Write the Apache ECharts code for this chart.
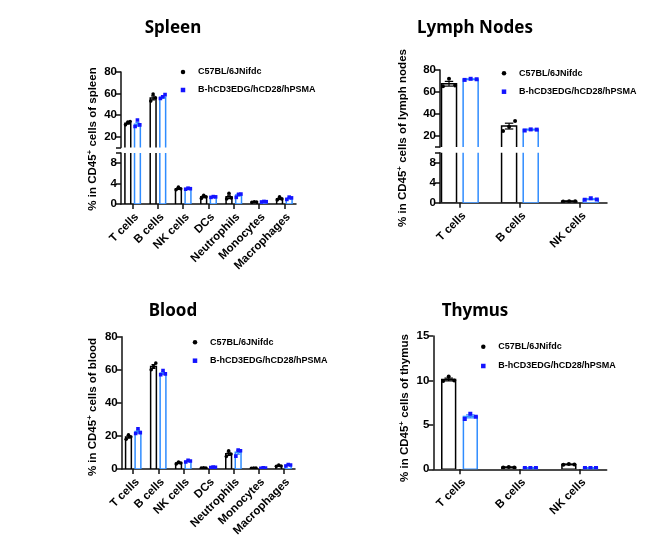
<!DOCTYPE html>
<html><head><meta charset="utf-8">
<script src="https://cdn.jsdelivr.net/npm/echarts@6/dist/echarts.min.js"></script>
<style>html,body{margin:0;padding:0;background:#fff}#c{width:669px;height:539px}</style>
</head><body><div id="c"></div>
<script>
// ---------------- data ----------------
const groupNames = ['C57BL/6JNifdc', 'B-hCD3EDG/hCD28/hPSMA'];

const spleenCats = ['T cells', 'B cells', 'NK cells', 'DCs', 'Neutrophils', 'Monocytes', 'Macrophages'];
const spleenWTMean = [32.5, 56, 3.0, 1.4, 1.4, 0.4, 1.05];
const spleenWTPts = [[31, 33.5, 34], [53, 59.5, 56], [2.8, 3.3, 3.0], [1.1, 1.7, 1.4], [1.0, 2.1, 1.2], [0.35, 0.45, 0.4], [0.8, 1.4, 1.0]];
const spleenHuMean = [31.5, 56.5, 3.0, 1.4, 1.75, 0.45, 1.1];
const spleenHuPts = [[29.5, 35.5, 31], [55.5, 57, 59], [2.9, 3.1, 3.0], [1.3, 1.45, 1.4], [1.3, 1.9, 1.95], [0.4, 0.5, 0.45], [0.9, 1.35, 1.2]];

const lnCats = ['T cells', 'B cells', 'NK cells'];
const lnWTMean = [67.5, 29, 0.3];
const lnWTPts = [[65.3, 72, 65.8], [24.5, 28.5, 33.6], [0.25, 0.3, 0.3]];
const lnHuMean = [71.5, 25.8, 0.7];
const lnHuPts = [[71, 72, 71.6], [25, 26, 25.8], [0.6, 0.9, 0.65]];

const bloodCats = ['T cells', 'B cells', 'NK cells', 'DCs', 'Neutrophils', 'Monocytes', 'Macrophages'];
const bloodWTMean = [19.4, 62, 3.6, 0.6, 9.2, 0.5, 1.9];
const bloodWTPts = [[18, 20.6, 19.5], [60, 62, 64], [3, 4.2, 3.6], [0.5, 0.7, 0.6], [7.5, 11, 9], [0.4, 0.6, 0.5], [1.6, 2.3, 1.8]];
const bloodHuMean = [22.6, 58, 4.7, 1.0, 10.1, 0.55, 2.3];
const bloodHuPts = [[21.5, 24.3, 22], [57, 59.6, 57.5], [4.2, 5.2, 4.8], [0.8, 1.1, 1.0], [7.8, 11.4, 11], [0.45, 0.65, 0.55], [1.8, 2.7, 2.4]];

const thCats = ['T cells', 'B cells', 'NK cells'];
const thWTMean = [10.1, 0.22, 0.55];
const thWTPts = [[9.95, 10.45, 10.0], [0.2, 0.25, 0.2], [0.5, 0.6, 0.55]];
const thHuMean = [5.95, 0.15, 0.15];
const thHuPts = [[5.65, 6.25, 5.9], [0.15, 0.15, 0.15], [0.15, 0.15, 0.15]];

const spleenTicksUpper = [20, 40, 60, 80];
const brokenTicksLower = [0, 4, 8];
const bloodTicks = [0, 20, 40, 60, 80];
const thymusTicks = [0, 5, 10, 15];

// ---------------- styles / layout ----------------
const FONT = '"Liberation Sans", Arial, sans-serif';
const TITLE_FONT = '"Noto Sans", sans-serif';
const BAR_BLUE = '#2f8cff';
const PT_BLUE = '#1414ff';
const AX = '#111';
const ICON = 4.5;

const panels = [
  { title: 'Spleen', tx: 173, ty: 28, organ: 'spleen', nx: 93, ny: 139,
    cats: spleenCats, means: [spleenWTMean, spleenHuMean], pts: [spleenWTPts, spleenHuPts],
    left: 121, width: 175, xMin: -0.46, xMax: 6.46, barW: 0.23, off: 0.19, dot: 3.6, cap: 0.08,
    segs: [
      { top: 72, height: 75.5, min: 10, max: 80, labels: spleenTicksUpper, ticks: [10].concat(spleenTicksUpper), showX: false },
      { top: 153, height: 51, min: 0, max: 10, labels: brokenTicksLower, ticks: brokenTicksLower.concat([10]), showX: true }
    ],
    legend: { dot: 183, top: 67, gap: 8 } },
  { title: 'Lymph Nodes', tx: 475, ty: 28, organ: 'lymph nodes', nx: 403, ny: 138,
    cats: lnCats, means: [lnWTMean, lnHuMean], pts: [lnWTPts, lnHuPts],
    left: 440, width: 167, xMin: -0.33, xMax: 2.45, barW: 0.25, off: 0.18, dot: 4, cap: 0.07,
    segs: [
      { top: 70, height: 77, min: 10, max: 80, labels: spleenTicksUpper, ticks: [10].concat(spleenTicksUpper), showX: false },
      { top: 152.7, height: 50, min: 0, max: 10, labels: brokenTicksLower, ticks: brokenTicksLower.concat([10]), showX: true }
    ],
    legend: { dot: 504, top: 68.3, gap: 8.4 } },
  { title: 'Blood', tx: 173, ty: 311, organ: 'blood', nx: 93, ny: 407,
    cats: bloodCats, means: [bloodWTMean, bloodHuMean], pts: [bloodWTPts, bloodHuPts],
    left: 121.7, width: 173.3, xMin: -0.46, xMax: 6.46, barW: 0.23, off: 0.19, dot: 3.6, cap: 0.08,
    segs: [
      { top: 336.7, height: 132.6, min: 0, max: 80, labels: bloodTicks, ticks: bloodTicks, showX: true }
    ],
    legend: { dot: 195, top: 337.3, gap: 8.4 } },
  { title: 'Thymus', tx: 475, ty: 311, organ: 'thymus', nx: 405, ny: 408,
    cats: thCats, means: [thWTMean, thHuMean], pts: [thWTPts, thHuPts],
    left: 433.3, width: 173.4, xMin: -0.436, xMax: 2.45, barW: 0.23, off: 0.18, dot: 4, cap: 0.07,
    segs: [
      { top: 336, height: 133.3, min: 0, max: 15, labels: thymusTicks, ticks: thymusTicks, showX: true }
    ],
    legend: { dot: 483.3, top: 341.7, gap: 9.3 } }
];

function makeRender(p, g) {
  const color = g === 0 ? '#000' : BAR_BLUE;
  const spread = [-0.4, 0, 0.4];
  return function (params, api) {
    const i = api.value(0), m = api.value(1);
    const pts = p.pts[g][params.dataIndex];
    const cx = i + (g === 0 ? -p.off : p.off);
    const tl = api.coord([cx - p.barW / 2, m]);
    const br = api.coord([cx + p.barW / 2, 0]);
    const children = [];
    children.push({ type: 'rect', shape: { x: tl[0], y: tl[1], width: br[0] - tl[0], height: br[1] - tl[1] },
      style: { fill: '#fff', stroke: color, lineWidth: 1.5 } });
    const n = pts.length;
    const mu = pts.reduce((a, b) => a + b, 0) / n;
    const sd = Math.sqrt(pts.reduce((a, b) => a + (b - mu) * (b - mu), 0) / (n - 1));
    const sem = sd / Math.sqrt(n);
    const hi = api.coord([cx, m + sem]), lo = api.coord([cx, m - sem]);
    const cl = api.coord([cx - p.cap, 0])[0], cr = api.coord([cx + p.cap, 0])[0];
    const ls = { stroke: color, lineWidth: 1.2 };
    children.push({ type: 'line', shape: { x1: hi[0], y1: hi[1], x2: lo[0], y2: lo[1] }, style: ls });
    children.push({ type: 'line', shape: { x1: cl, y1: hi[1], x2: cr, y2: hi[1] }, style: ls });
    children.push({ type: 'line', shape: { x1: cl, y1: lo[1], x2: cr, y2: lo[1] }, style: ls });
    pts.forEach((v, k) => {
      const c = api.coord([cx + spread[k] * p.barW, v]);
      if (g === 0) {
        children.push({ type: 'circle', shape: { cx: c[0], cy: c[1], r: p.dot / 2 }, style: { fill: '#000' } });
      } else {
        children.push({ type: 'rect', shape: { x: c[0] - p.dot / 2, y: c[1] - p.dot / 2, width: p.dot, height: p.dot }, style: { fill: PT_BLUE } });
      }
    });
    return { type: 'group', children };
  };
}

const grid = [], xAxis = [], yAxis = [], series = [], legend = [], graphic = [];
panels.forEach(p => {
  const idx = p.cats.map((c, i) => i);
  p.segs.forEach(s => {
    const gi = grid.length;
    grid.push({ left: p.left, top: s.top, width: p.width, height: s.height });
    xAxis.push({
      type: 'value', gridIndex: gi, min: p.xMin, max: p.xMax, splitLine: { show: false },
      axisLine: { show: s.showX, onZero: false, lineStyle: { color: AX, width: 1.5 } },
      axisTick: { show: s.showX, customValues: idx, length: 5, lineStyle: { color: AX, width: 1.5 } },
      axisLabel: { show: s.showX, customValues: idx, formatter: v => p.cats[Math.round(v)], rotate: 45,
        margin: 7, verticalAlign: 'top', color: '#000', fontFamily: FONT, fontWeight: 'bold', fontSize: 11.5 }
    });
    yAxis.push({
      type: 'value', gridIndex: gi, min: s.min, max: s.max, splitLine: { show: false },
      axisLine: { show: true, onZero: false, lineStyle: { color: AX, width: 1.5 } },
      axisTick: { show: true, customValues: s.ticks, length: 5, lineStyle: { color: AX, width: 1.5 } },
      axisLabel: { customValues: s.labels, margin: 4, color: '#000', fontFamily: FONT, fontWeight: 'bold', fontSize: 11.5 }
    });
    [0, 1].forEach(g => {
      series.push({
        type: 'custom', name: groupNames[g], xAxisIndex: gi, yAxisIndex: gi, clip: true,
        itemStyle: { color: g === 0 ? '#000' : PT_BLUE },
        data: p.cats.map((c, i) => [i, p.means[g][i]]),
        renderItem: makeRender(p, g)
      });
    });
  });
  legend.push({
    orient: 'vertical', left: p.legend.dot - ICON / 2, top: p.legend.top, padding: 0,
    itemWidth: ICON, itemHeight: ICON, itemGap: p.legend.gap, selectedMode: false,
    textStyle: { fontFamily: FONT, fontWeight: 'bold', fontSize: 9, color: '#000', lineHeight: 10,
      padding: [0, 0, 0, 10 - ICON / 2] },
    data: [
      { name: groupNames[0], icon: 'circle', itemStyle: { color: '#000', borderWidth: 0 } },
      { name: groupNames[1], icon: 'rect', itemStyle: { color: PT_BLUE, borderWidth: 0 } }
    ]
  });
  graphic.push({ type: 'text', x: p.tx, y: p.ty, silent: true,
    style: { text: p.title, fontFamily: TITLE_FONT, fontWeight: 'bold', fontSize: 17, fill: '#000',
      textAlign: 'center', textVerticalAlign: 'middle' } });
  graphic.push({ type: 'text', x: p.nx, y: p.ny, rotation: Math.PI / 2, silent: true,
    style: { text: '{m|% in CD45}{s|+}{m| cells of ' + p.organ + '}', textAlign: 'center', textVerticalAlign: 'middle',
      rich: {
        m: { fontFamily: FONT, fontWeight: 'bold', fontSize: 11.5, fill: '#000', lineHeight: 14 },
        s: { fontFamily: FONT, fontWeight: 'bold', fontSize: 8, fill: '#000', verticalAlign: 'top', lineHeight: 8 }
      } } });
});

const chart = echarts.init(document.getElementById('c'), null, { renderer: 'canvas' });
chart.setOption({ animation: false, backgroundColor: '#fff', grid, xAxis, yAxis, series, legend, graphic });
</script>
</body></html>
